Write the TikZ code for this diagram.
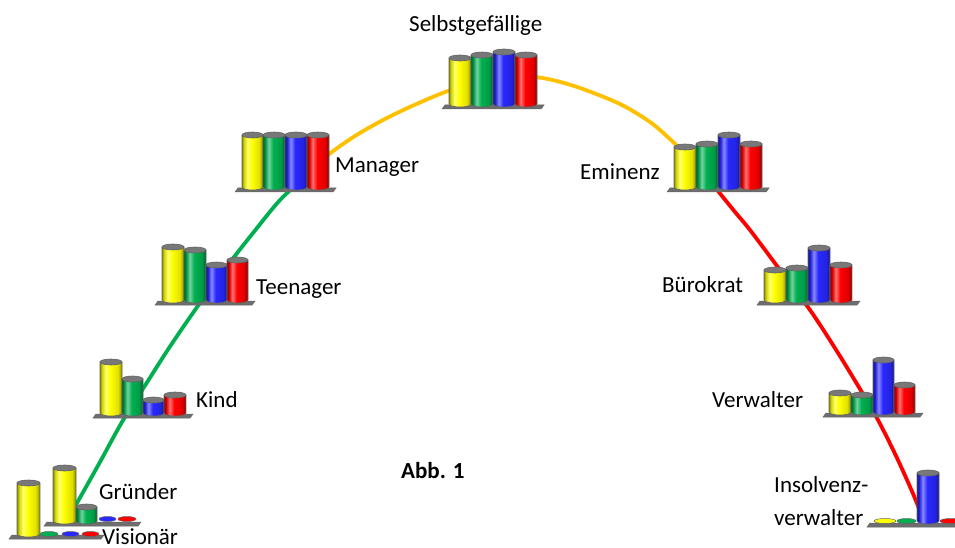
\documentclass[tikz,border=0pt]{standalone}
\usepackage{fontspec}
\setmainfont{Carlito}
\definecolor{mygreen}{RGB}{0,176,80}
\definecolor{myblue}{RGB}{40,40,255}
\definecolor{myred}{RGB}{255,0,0}
\definecolor{myyellow}{RGB}{255,255,0}
\definecolor{myorange}{RGB}{255,192,0}
\definecolor{barline}{RGB}{100,100,100}
\definecolor{capgray}{RGB}{120,120,120}
\definecolor{basegray}{RGB}{110,110,110}
\newcommand{\declcyl}[2]{%
  \pgfdeclarehorizontalshading{#1}{100bp}{color(0bp)=(#2!55!black); color(25bp)=(#2!55!black); color(30bp)=(#2!85!black); color(38bp)=(#2!55!white); color(48bp)=(#2); color(66bp)=(#2!88!black); color(75bp)=(#2!55!black); color(100bp)=(#2!55!black)}}
\declcyl{cylY}{myyellow}
\declcyl{cylG}{mygreen}
\declcyl{cylB}{myblue}
\declcyl{cylR}{myred}
\newcommand{\cylbar}[5]{%
  \pgfmathsetmacro{\cbx}{(#1+#2)/2}%
  \pgfmathsetmacro{\cbr}{(#2-#1)/2}%
  \path[draw=barline, line width=0.6pt, shading=#5]
    (#1,-#3) -- (#1,-#4) arc[start angle=180,end angle=360,x radius=\cbr,y radius=3] -- (#2,-#3) -- cycle;
  \path[draw=barline, line width=0.6pt, fill=capgray] (\cbx,-#3) ellipse[x radius=\cbr,y radius=3];
}
\newcommand{\flatbar}[4]{%
  \pgfmathsetmacro{\cbx}{(#1+#2)/2}%
  \pgfmathsetmacro{\cbr}{(#2-#1)/2}%
  \path[draw=barline, line width=0.5pt, fill=#4] (\cbx,-#3) ellipse[x radius=\cbr,y radius=2.5];
}
\newcommand{\cbase}[3]{%
  \path[fill=basegray, draw=barline, line width=0.5pt]
    ({#1-2},{-#3+1}) -- ({#2+4},{-#3+1}) -- ({#2+1},{-#3-3}) -- ({#1-5},{-#3-3}) -- cycle;
}
\begin{document}
\begin{tikzpicture}[x=1pt,y=1pt,
  curve/.style={line width=3.8pt, line cap=round},
  lbl/.style={font=\fontsize{23}{27}\selectfont, inner sep=0pt, anchor=base west}]
\useasboundingbox (0,0) rectangle (955,-548);
\fill[white] (0,0) rectangle (955,-548);
% curve
\coordinate (gstart) at (72,-512);
\coordinate (go) at (306,-176);
\coordinate (or) at (718,-191);
\coordinate (rend) at (924,-522);
\draw[curve, mygreen] plot[smooth, tension=0.5] coordinates {(gstart) (77,-503) (100,-462) (122,-422) (146,-384) (169,-348) (195,-310) (224,-270) (253,-233) (280,-200) (go)};
\draw[curve, myorange] plot[smooth, tension=0.5] coordinates {(go) (328,-155) (355,-136) (383,-120) (412,-106) (448,-91) (490,-79) (520,-76) (548,-79) (580,-88) (620,-104) (650,-122) (672,-141) (695,-164) (or)};
\draw[curve, myred] plot[smooth, tension=0.5] coordinates {(or) (735,-212) (750,-230) (780,-270) (810,-310) (833,-345) (857,-384) (878,-420) (897,-458) (914,-496) (rend)};
% Visionaer
\cbase{14}{100}{536}
\flatbar{40}{58}{534}{mygreen}
\flatbar{62}{79}{534}{myblue}
\flatbar{82}{99}{534}{myred}
\cylbar{17}{40}{483}{534}{cylY}
% Gruender
\cbase{49}{137}{523}
\flatbar{99}{116}{519}{myblue}
\flatbar{118}{136}{519}{myred}
\cylbar{53}{76}{468}{521}{cylY}
\cylbar{76}{97}{507}{521}{cylG}
% Kind
\cbase{98}{189}{415}
\cylbar{100}{122}{362}{413}{cylY}
\cylbar{122}{143}{379}{413}{cylG}
\cylbar{143}{164}{400}{413}{cylB}
\cylbar{164}{186}{395}{413}{cylR}
% Teenager
\cbase{160}{251}{302}
\cylbar{162}{184}{247}{300}{cylY}
\cylbar{184}{206}{250}{300}{cylG}
\cylbar{206}{227}{265}{300}{cylB}
\cylbar{227}{248}{260}{300}{cylR}
% Manager
\cbase{240}{332}{189}
\cylbar{242}{263}{135}{187}{cylY}
\cylbar{263}{285}{135}{187}{cylG}
\cylbar{285}{307}{135}{187}{cylB}
\cylbar{307}{329}{135}{187}{cylR}
% Selbstgefaellige
\cbase{447}{540}{106}
\cylbar{449}{471}{58}{104}{cylY}
\cylbar{471}{493}{55}{104}{cylG}
\cylbar{493}{515}{52}{104}{cylB}
\cylbar{515}{537}{55}{104}{cylR}
% Eminenz
\cbase{672}{765}{189}
\cylbar{674}{696}{147}{187}{cylY}
\cylbar{696}{718}{144}{187}{cylG}
\cylbar{718}{740}{135}{187}{cylB}
\cylbar{740}{762}{144}{187}{cylR}
% Buerokrat
\cbase{762}{856}{302}
\cylbar{764}{786}{270}{300}{cylY}
\cylbar{786}{808}{268}{300}{cylG}
\cylbar{808}{830}{248}{300}{cylB}
\cylbar{830}{852}{265}{300}{cylR}
% Verwalter
\cbase{828}{919}{414}
\cylbar{829}{851}{393}{412}{cylY}
\cylbar{851}{873}{395}{412}{cylG}
\cylbar{873}{894}{360}{412}{cylB}
\cylbar{894}{915}{385}{412}{cylR}
% Insolvenzverwalter
\cbase{872}{958}{524}
\flatbar{874}{896}{521}{myyellow}
\flatbar{897}{916}{521}{mygreen}
\flatbar{940}{962}{521}{myred}
\cylbar{917}{939}{473}{521}{cylB}
% labels
\node[lbl] (selbst) at (409,-32) {Selbstgefällige};
\node[lbl] (manager) at (335,-173) {Manager};
\node[lbl] (teen) at (256,-294) {Teenager};
\node[lbl] (kind) at (196,-407) {Kind};
\node[lbl] (gruender) at (99,-499) {Gründer};
\node[lbl] (vision) at (102,-544) {Visionär};
\node[lbl] (eminenz) at (580,-180) {Eminenz};
\node[lbl] (buero) at (662,-292) {Bürokrat};
\node[lbl] (verw) at (712,-407) {Verwalter};
\node[lbl] (insol1) at (774,-492) {Insolvenz-};
\node[lbl] (insol2) at (774,-525) {verwalter};
\node[lbl, font=\fontsize{23}{27}\selectfont\bfseries] (abb) at (401,-478) {Abb. 1};
\end{tikzpicture}
\end{document}
